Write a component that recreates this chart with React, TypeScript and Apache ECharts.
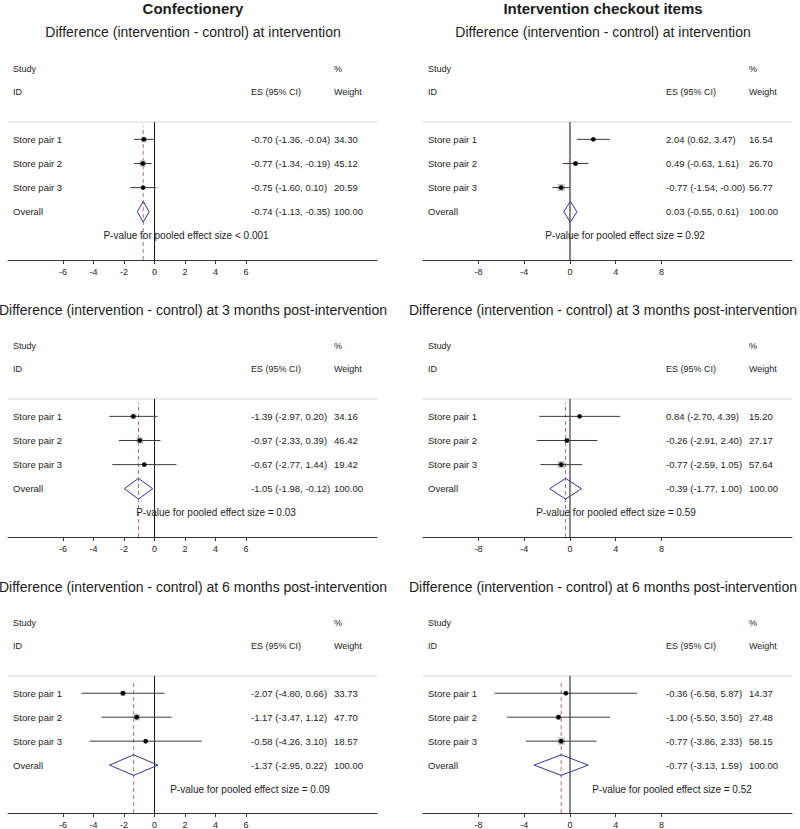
import React, { useEffect, useRef } from "react";
import * as echarts from "echarts";

// ---------- DATA ----------
const columnTitles = ["Confectionery", "Intervention checkout items"];
const timepointTitles = [
  "Difference (intervention - control) at intervention",
  "Difference (intervention - control) at 3 months post-intervention",
  "Difference (intervention - control) at 6 months post-intervention",
];
const studyLabels = ["Store pair 1", "Store pair 2", "Store pair 3"];

// panel order: [conf@int, checkout@int, conf@3m, checkout@3m, conf@6m, checkout@6m]
const studyES: number[][] = [
  [-0.7, -0.77, -0.75],
  [2.04, 0.49, -0.77],
  [-1.39, -0.97, -0.67],
  [0.84, -0.26, -0.77],
  [-2.07, -1.17, -0.58],
  [-0.36, -1.0, -0.77],
];
const studyLow: number[][] = [
  [-1.36, -1.34, -1.6],
  [0.62, -0.63, -1.54],
  [-2.97, -2.33, -2.77],
  [-2.7, -2.91, -2.59],
  [-4.8, -3.47, -4.26],
  [-6.58, -5.5, -3.86],
];
const studyHigh: number[][] = [
  [-0.04, -0.19, 0.1],
  [3.47, 1.61, -0],
  [0.2, 0.39, 1.44],
  [4.39, 2.4, 1.05],
  [0.66, 1.12, 3.1],
  [5.87, 3.5, 2.33],
];
const studyWeight: number[][] = [
  [34.3, 45.12, 20.59],
  [16.54, 26.7, 56.77],
  [34.16, 46.42, 19.42],
  [15.2, 27.17, 57.64],
  [33.73, 47.7, 18.57],
  [14.37, 27.48, 58.15],
];
const overallES = [-0.74, 0.03, -1.05, -0.39, -1.37, -0.77];
const overallLow = [-1.13, -0.55, -1.98, -1.77, -2.95, -3.13];
const overallHigh = [-0.35, 0.61, -0.12, 1.0, 0.22, 1.59];
const overallWeight = [100, 100, 100, 100, 100, 100];
const pValueText = ["< 0.001", "= 0.92", "= 0.03", "= 0.59", "= 0.09", "= 0.52"];

const confTicks = [-6, -4, -2, 0, 2, 4, 6];
const checkoutTicks = [-8, -4, 0, 4, 8];

// ---------- LAYOUT ----------
const FONT = '"Liberation Sans", Arial, sans-serif';
const TXT = "#1c1c1c";
const colGridLeft = [8, 423];
const gridWidth = 369;
const rowGridTop = [122, 399, 676];
const gridHeight = 138;
const colXRange = [
  [-9.61, 14.59],
  [-12.85, 19.41],
];
const colTicks = [confTicks, checkoutTicks];
const colCenter = [193, 603];
const subtitleY = [32, 310, 587];
const pValueCenterOffset = [178, 202, 208, 193, 242, 249];
const Y_MAX = 5.72;
const ROW_Y = [5, 4, 3];
const OVERALL_Y = 2;
const PVAL_Y = 1;

const fmt = (v: number) =>
  (v < 0 || Object.is(v, -0) ? "-" : "") + Math.abs(v).toFixed(2);

function txt(x: number, y: number, text: string, size: number, align = "left", weight = "normal") {
  return {
    type: "text",
    x,
    y,
    silent: true,
    style: {
      text,
      fill: TXT,
      fontSize: size,
      fontFamily: FONT,
      fontWeight: weight,
      align,
      verticalAlign: "middle",
      textAlign: align,
      textVerticalAlign: "middle",
    },
  };
}

export default function App() {
  const ref = useRef<HTMLDivElement>(null);

  useEffect(() => {
    if (!ref.current) return;
    const chart = echarts.init(ref.current, null, { renderer: "svg" });

    const grids: any[] = [];
    const xAxes: any[] = [];
    const yAxes: any[] = [];
    const series: any[] = [];

    for (let p = 0; p < 6; p++) {
      const row = Math.floor(p / 2);
      const col = p % 2;
      grids.push({
        left: colGridLeft[col],
        top: rowGridTop[row],
        width: gridWidth,
        height: gridHeight,
        containLabel: false,
      });
      xAxes.push({
        type: "value",
        gridIndex: p,
        min: colXRange[col][0],
        max: colXRange[col][1],
        splitLine: { show: false },
        axisLine: { show: true, onZero: false, lineStyle: { color: "#333", width: 1 } },
        axisTick: {
          show: true,
          customValues: colTicks[col],
          length: 4,
          lineStyle: { color: "#333" },
        },
        axisLabel: {
          show: true,
          customValues: colTicks[col],
          fontSize: 9,
          fontFamily: FONT,
          color: TXT,
          margin: 7,
        },
      });
      yAxes.push({
        type: "value",
        gridIndex: p,
        min: 0,
        max: Y_MAX,
        show: false,
      });

      // frame + overall
      series.push({
        type: "custom",
        xAxisIndex: p,
        yAxisIndex: p,
        z: 1,
        clip: false,
        data: [[OVERALL_Y, overallES[p], overallLow[p], overallHigh[p], overallWeight[p]]],
        renderItem: (params: any, api: any) => {
          const cs = params.coordSys;
          const y = api.value(0);
          const es = api.value(1);
          const lo = api.value(2);
          const hi = api.value(3);
          const wt = api.value(4);
          const c = api.coord([es, y]);
          const l = api.coord([lo, y]);
          const h = api.coord([hi, y]);
          const up = api.coord([es, y + 0.43]);
          const dn = api.coord([es, y - 0.43]);
          const z0 = api.coord([0, 0]);
          const z1 = api.coord([0, Y_MAX]);
          const e0 = api.coord([es, 0]);
          const e1 = api.coord([es, Y_MAX]);
          const pv = api.coord([0, PVAL_Y]);
          const esX = cs.x + 243;
          const wX = cs.x + 326;
          return {
            type: "group",
            children: [
              {
                type: "line",
                shape: { x1: cs.x, y1: cs.y, x2: cs.x + cs.width, y2: cs.y },
                style: { stroke: "#d4d4d4", lineWidth: 1 },
              },
              {
                type: "line",
                shape: { x1: z0[0], y1: z0[1], x2: z1[0], y2: z1[1] },
                style: { stroke: "#111", lineWidth: 1 },
              },
              {
                type: "line",
                shape: { x1: e0[0], y1: e0[1], x2: e1[0], y2: e1[1] + 4 },
                style: { stroke: "#c46a74", lineWidth: 1, lineDash: [4, 3] },
              },
              {
                type: "polygon",
                shape: { points: [l, up, h, dn] },
                style: { fill: "rgba(255,255,255,0)", stroke: "#33339a", lineWidth: 1 },
              },
              txt(cs.x + 5, cs.y - 53, "Study", 9),
              txt(cs.x + 5, cs.y - 30, "ID", 9),
              txt(esX, cs.y - 30, "ES (95% CI)", 9),
              txt(wX, cs.y - 53, "%", 9),
              txt(wX, cs.y - 30, "Weight", 9),
              txt(cs.x + 5, c[1], "Overall", 9.5),
              txt(esX, c[1], `${fmt(es)} (${fmt(lo)}, ${fmt(hi)})`, 9.5),
              txt(wX, c[1], wt.toFixed(2), 9.5),
              txt(
                cs.x + pValueCenterOffset[params.seriesIndex >> 1],
                pv[1],
                `P-value for pooled effect size ${pValueText[params.seriesIndex >> 1]}`,
                10,
                "center"
              ),
            ],
          };
        },
      });

      // studies
      series.push({
        type: "custom",
        xAxisIndex: p,
        yAxisIndex: p,
        z: 2,
        clip: false,
        data: studyES[p].map((es, i) => [ROW_Y[i], es, studyLow[p][i], studyHigh[p][i], studyWeight[p][i]]),
        renderItem: (params: any, api: any) => {
          const cs = params.coordSys;
          const i = params.dataIndex;
          const y = api.value(0);
          const es = api.value(1);
          const lo = api.value(2);
          const hi = api.value(3);
          const wt = api.value(4);
          const c = api.coord([es, y]);
          const l = api.coord([lo, y]);
          const h = api.coord([hi, y]);
          const box = Math.sqrt(wt) * 0.95;
          return {
            type: "group",
            children: [
              {
                type: "rect",
                shape: { x: c[0] - box / 2, y: c[1] - box / 2, width: box, height: box },
                style: { fill: "#c2c2c2" },
              },
              {
                type: "line",
                shape: { x1: l[0], y1: l[1], x2: h[0], y2: h[1] },
                style: { stroke: "#3a3a3a", lineWidth: 1 },
              },
              {
                type: "circle",
                shape: { cx: c[0], cy: c[1], r: 2.3 },
                style: { fill: "#000" },
              },
              txt(cs.x + 5, c[1], studyLabels[i], 9.5),
              txt(cs.x + 243, c[1], `${fmt(es)} (${fmt(lo)}, ${fmt(hi)})`, 9.5),
              txt(cs.x + 326, c[1], wt.toFixed(2), 9.5),
            ],
          };
        },
      });
    }

    const graphic: any[] = [];
    columnTitles.forEach((t, col) => {
      graphic.push(txt(colCenter[col], 8, t, 15, "center", "bold"));
    });
    for (let row = 0; row < 3; row++) {
      for (let col = 0; col < 2; col++) {
        graphic.push(txt(colCenter[col], subtitleY[row], timepointTitles[row], 14, "center"));
      }
    }

    chart.setOption({
      animation: false,
      backgroundColor: "#fff",
      grid: grids,
      xAxis: xAxes,
      yAxis: yAxes,
      series,
      graphic,
    });

    return () => chart.dispose();
  }, []);

  return (
    <div
      ref={ref}
      style={{ position: "absolute", left: 0, top: 0, width: 800, height: 829 }}
    />
  );
}
